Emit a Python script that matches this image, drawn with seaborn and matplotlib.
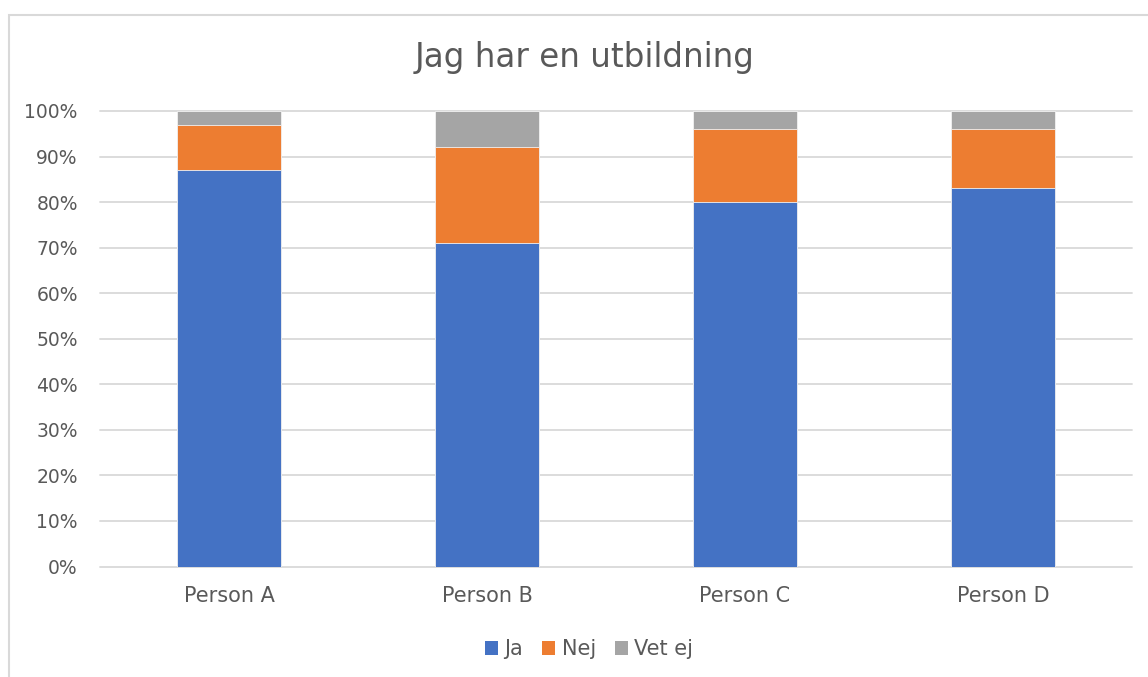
import matplotlib
matplotlib.use("Agg")
import matplotlib.pyplot as plt
import seaborn as sns
import pandas as pd
import numpy as np
from matplotlib.patches import Rectangle, Patch
from matplotlib.ticker import PercentFormatter

categories = ["Person A", "Person B", "Person C", "Person D"]
ja = [87, 71, 80, 83]
nej = [10, 21, 16, 13]
vet_ej = [3, 8, 4, 4]
series_names = ["Ja", "Nej", "Vet ej"]
colors = ["#4472C4", "#ED7D31", "#A5A5A5"]
title = "Jag har en utbildning"

sns.set_theme(style="white")
plt.rcParams['font.family'] = ['DejaVu Sans']
text_color = "#595959"

df = pd.DataFrame({"cat": categories, "Ja": ja, "Nej": nej, "Vet ej": vet_ej})
df["c_ja"] = df["Ja"]
df["c_nej"] = df["Ja"] + df["Nej"]
df["c_vet"] = df["c_nej"] + df["Vet ej"]

fig = plt.figure(figsize=(11.48, 6.77), dpi=100)
ax = fig.add_axes([100/1148, 1-566.5/677, 1032/1148, 455.5/677])

for col, color in zip(["c_vet", "c_nej", "c_ja"], colors[::-1]):
    sns.barplot(data=df, x="cat", y=col, color=color, width=0.403, ax=ax,
                edgecolor="#F2F2F2", linewidth=0.6, saturation=1, zorder=3)

ax.set_xlim(-0.5, 3.5)
ax.set_ylim(0, 100)
ax.set_yticks(np.arange(0, 101, 10))
ax.yaxis.set_major_formatter(PercentFormatter(decimals=0))
ax.grid(axis="y", color="#D9D9D9", linewidth=1.3, zorder=0)
ax.set_axisbelow(True)
for gl in ax.get_ygridlines():
    gl.set_clip_on(False)
for s in ax.spines.values():
    s.set_visible(False)
ax.set_xlabel("")
ax.set_ylabel("")
ax.tick_params(axis="y", length=0, pad=16, labelsize=13.5, labelcolor=text_color)
ax.tick_params(axis="x", length=0, pad=14, labelsize=15, labelcolor=text_color)

fig.text(585/1148, 1-58/677, title, ha="center", va="center", fontsize=23.5, color=text_color)

handles = [Patch(facecolor=c, edgecolor="none") for c in colors]
fig.legend(handles, series_names, loc="center", bbox_to_anchor=(589/1148, 1-649/677),
           ncol=3, frameon=False, fontsize=15, labelcolor=text_color,
           handlelength=0.65, handleheight=0.65, handletextpad=0.3, columnspacing=0.9)

fig.patches.append(Rectangle((8.5/1148, -0.1), 1.2, (677-14.5)/677 + 0.1,
                             transform=fig.transFigure, fill=False,
                             edgecolor="#D9D9D9", linewidth=1.5))

fig.savefig("out.png", dpi=100)
